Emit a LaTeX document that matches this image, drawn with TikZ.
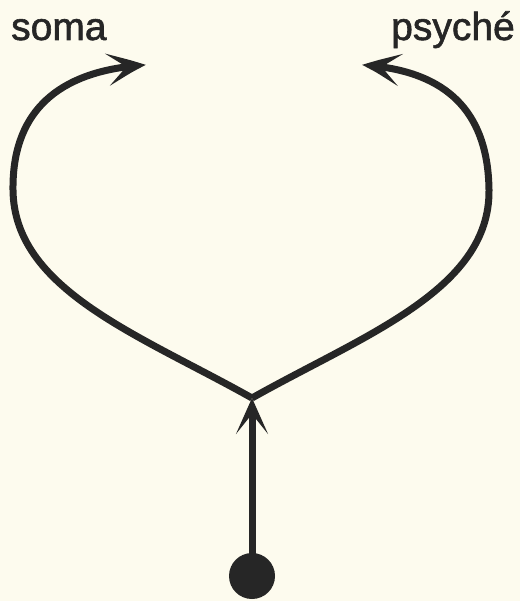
\documentclass[tikz,border=0pt]{standalone}
\usepackage{fontspec}
\setmainfont{Liberation Sans}
\newfontfamily\lblfont[FakeBold=1.5]{Liberation Sans}
\usetikzlibrary{arrows.meta,bending}
\begin{document}
\begin{tikzpicture}[x=1pt,y=-1pt,
  line/.style={line width=7pt,draw=ink},
  tip/.style={-{Stealth[length=40pt,width=32pt,inset=20pt,bend]}},
  lbl/.style={font=\lblfont\fontsize{39}{42}\selectfont,text=ink,inner sep=0pt,anchor=base west}]
\definecolor{ink}{HTML}{262626}
\fill[fill={rgb,255:red,253;green,251;blue,238}] (0,0) rectangle (520,601);
\useasboundingbox (0,0) rectangle (520,601);
\node[lbl] (soma) at (11,40) {soma};
\node[lbl] (psyche) at (391,40) {psyché};
\coordinate (J) at (252,398);
\coordinate (LT) at (146,65);
\coordinate (RT) at (362,65);
\node[circle,fill=ink,minimum size=46pt,inner sep=0pt] (dot) at (252,576) {};
\draw[line,tip] (J) .. controls (140,335) and (14,290) .. (13,190) .. controls (12,110) and (60,70) .. (LT);
\draw[line,tip] (J) .. controls (364,335) and (490,290) .. (489,190) .. controls (488,110) and (445,70) .. (RT);
\draw[line,-{Stealth[length=36pt,width=32pt,inset=20pt]}] (dot.center) -- (J);
\end{tikzpicture}
\end{document}
